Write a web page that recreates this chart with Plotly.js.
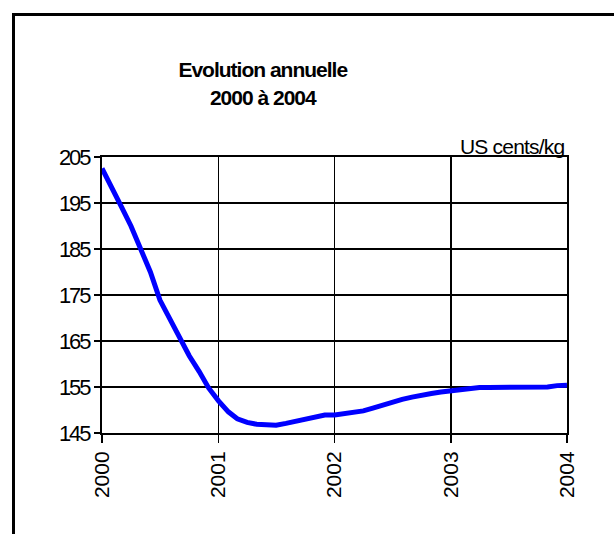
<!DOCTYPE html>
<html>
<head>
<meta charset="utf-8">
<script src="https://cdn.plot.ly/plotly-3.0.1.min.js"></script>
<style>
  html, body { margin: 0; padding: 0; background: #fff; }
  #frame { position: absolute; left: 12px; top: 13px; width: 700px; height: 600px; border: 3px solid #000; box-sizing: border-box; }
  #chart { position: absolute; left: 0; top: 0; width: 614px; height: 534px; }
  .ytick text { letter-spacing: -2px; }
  .gtitle { letter-spacing: -1px; }
  .annotation-text { letter-spacing: -0.8px; }
</style>
</head>
<body>
<div id="frame"></div>
<div id="chart"></div>
<script>
var months = [
  "2000-01-01","2000-02-01","2000-03-01","2000-04-01","2000-05-01","2000-06-01","2000-07-01","2000-08-01","2000-09-01","2000-10-01","2000-11-01","2000-12-01",
  "2001-01-01","2001-02-01","2001-03-01","2001-04-01","2001-05-01","2001-06-01","2001-07-01","2001-08-01","2001-09-01","2001-10-01","2001-11-01","2001-12-01",
  "2002-01-01","2002-02-01","2002-03-01","2002-04-01","2002-05-01","2002-06-01","2002-07-01","2002-08-01","2002-09-01","2002-10-01","2002-11-01","2002-12-01",
  "2003-01-01","2003-02-01","2003-03-01","2003-04-01","2003-05-01","2003-06-01","2003-07-01","2003-08-01","2003-09-01","2003-10-01","2003-11-01","2003-12-01",
  "2004-01-01"
];
var prices = [
  202.5, 198.5, 194.3, 190.0, 184.8, 180.0, 173.9, 169.8, 165.8, 161.8, 158.4, 154.8,
  152.0, 149.6, 148.1, 147.3, 146.9, 146.7, 146.7, 147.1, 147.6, 148.0, 148.5, 148.9,
  148.9, 149.2, 149.6, 149.8, 150.4, 151.1, 151.7, 152.3, 152.8, 153.3, 153.6, 153.9,
  154.2, 154.5, 154.7, 154.9, 154.9, 154.9, 154.9, 154.9, 154.9, 154.9, 155.0, 155.3,
  155.4
];
var yearTicks = ["2000-01-01","2001-01-01","2002-01-01","2003-01-01","2004-01-01"];
var yearLabels = ["2000","2001","2002","2003","2004"];
var yTicks = [145, 155, 165, 175, 185, 195, 205];
var titleText = "Evolution annuelle<br>2000 à 2004";
var unitText = "US cents/kg";

var font = "Liberation Sans, Arial, sans-serif";

Plotly.newPlot("chart", [{
  x: months, y: prices, type: "scatter", mode: "lines",
  line: { color: "#0000FF", width: 5 },
  hoverinfo: "skip"
}], {
  width: 614, height: 534,
  margin: { l: 102, r: 47, t: 157, b: 101 },
  paper_bgcolor: "rgba(0,0,0,0)",
  plot_bgcolor: "#fff",
  showlegend: false,
  font: { family: font, color: "#000" },
  title: {
    text: titleText,
    font: { family: font, size: 21, weight: "bold", color: "#000" },
    xref: "container", x: 0.428, xanchor: "center",
    yref: "container", y: 0.855, yanchor: "top"
  },
  xaxis: {
    type: "date",
    range: ["2000-01-01", "2004-01-01"],
    tickvals: yearTicks, ticktext: yearLabels,
    tickangle: -90,
    tickfont: { family: font, size: 21, color: "#000" },
    ticks: "outside", ticklen: 8, tickwidth: 1.5, tickcolor: "#000",
    showgrid: true, gridcolor: "#000", gridwidth: 1.5,
    showline: true, linecolor: "#000", linewidth: 2, mirror: true,
    zeroline: false, fixedrange: true
  },
  yaxis: {
    range: [145, 205],
    tickvals: yTicks,
    tickfont: { family: font, size: 22, color: "#000" },
    ticks: "outside", ticklen: 6, tickwidth: 1.5, tickcolor: "#000",
    showgrid: true, gridcolor: "#000", gridwidth: 1.5,
    showline: true, linecolor: "#000", linewidth: 2, mirror: true,
    zeroline: false, fixedrange: true
  },
  annotations: [{
    text: unitText, xref: "paper", yref: "paper", x: 1, y: 1,
    xanchor: "right", yanchor: "bottom", showarrow: false,
    font: { family: font, size: 21, color: "#000" }, yshift: -3
  }]
}, { displayModeBar: false, staticPlot: true });
</script>
</body>
</html>
